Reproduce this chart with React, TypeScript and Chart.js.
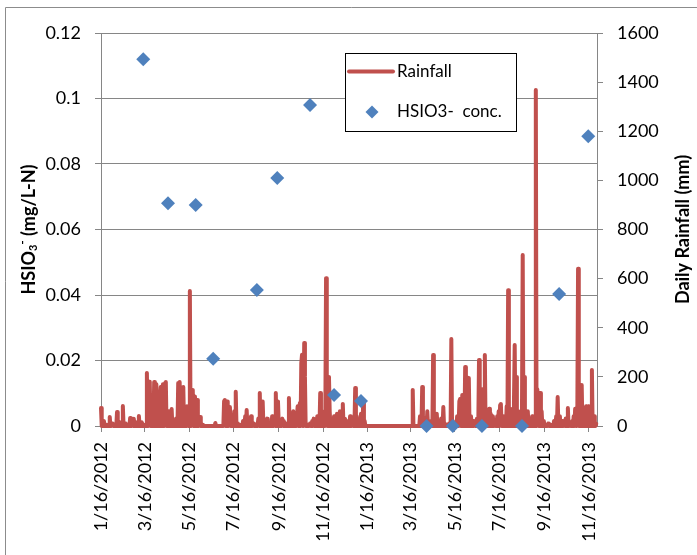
import React, { useEffect, useRef } from 'react';
import { Chart, registerables } from 'chart.js';

Chart.register(...registerables);

// Day offsets counted from 1/16/2012
const tickDays = [0, 60, 121, 182, 244, 305, 366, 425, 486, 547, 609, 670];
const tickLabels = [
  '1/16/2012', '3/16/2012', '5/16/2012', '7/16/2012', '9/16/2012', '11/16/2012',
  '1/16/2013', '3/16/2013', '5/16/2013', '7/16/2013', '9/16/2013', '11/16/2013',
];
const lastDay = 681;

// Rainy days (day offset, mm); days not listed had no rainfall (0 mm)
const rainDay = [
  0, 4, 8, 12, 16, 22, 26, 30, 34, 40, 43, 45, 48, 52, 56, 59, 63, 66, 67, 70,
  73, 76, 78, 81, 82, 85, 88, 89, 92, 95, 97, 100, 103, 106, 108, 111, 113, 115, 118, 119,
  122, 125, 126, 129, 132, 135, 136, 139, 157, 169, 170, 173, 176, 177, 180, 183,
  185, 188, 192, 195, 198, 200, 203, 206, 209, 213, 216, 218, 221, 222, 225, 228, 232, 235, 238, 240,
  243, 244, 249, 251, 254, 258, 261, 264, 266, 270, 273, 275, 276, 279, 280, 283, 287, 290, 292, 297,
  299, 301, 303, 305, 308, 309, 310, 313, 314, 317, 320, 324, 328, 332, 335, 339, 342, 345, 349, 351,
  354, 357, 360, 362, 428, 438, 441, 443, 445, 448, 450, 453, 456, 459, 461, 464,
  467, 470, 472, 475, 478, 481, 483, 486, 489, 492, 493, 496, 500, 502, 505, 508, 511, 513, 516, 519,
  522, 524, 527, 530, 533, 535, 538, 541, 544, 546, 548, 549, 552, 555, 557, 559, 562, 564, 567, 568,
  570, 573, 575, 578, 579, 581, 583, 586, 589, 592, 594, 597, 599, 600, 603, 605, 608, 611, 614,
  619, 622, 625, 627, 630, 633, 636, 638, 641, 644, 647, 649, 651, 654, 655, 658, 660, 663, 666, 669,
  671, 674, 677, 680,
];
const rainMm = [
  73, 20, 5, 37, 10, 57, 15, 81, 10, 33, 20, 30, 15, 41, 15, 5, 216, 180, 170, 40,
  179, 170, 30, 120, 159, 170, 175, 179, 60, 20, 69, 20, 30, 175, 179, 130, 159, 60, 80, 20,
  550, 60, 147, 120, 106, 20, 37, 5, 12, 102, 106, 100, 30, 77, 40, 60,
  139, 10, 5, 20, 40, 65, 20, 40, 10, 5, 30, 134, 60, 100, 20, 30, 10, 40, 20, 134,
  100, 10, 30, 20, 10, 114, 30, 60, 40, 80, 94, 256, 290, 338, 200, 5, 10, 20, 30, 40,
  10, 134, 60, 30, 40, 602, 150, 200, 60, 30, 40, 50, 60, 90, 30, 20, 40, 10, 155, 40,
  10, 50, 94, 20, 147, 40, 159, 10, 30, 60, 10, 20, 289, 40, 50, 20,
  30, 77, 10, 5, 10, 354, 20, 5, 40, 100, 110, 126, 240, 200, 195, 40, 20, 10, 30, 269,
  100, 150, 289, 60, 70, 50, 40, 10, 40, 60, 85, 90, 40, 20, 80, 553, 70, 40, 100, 330,
  200, 60, 40, 60, 696, 200, 40, 60, 20, 40, 30, 1368, 150, 100, 134, 60, 20, 5, 10,
  5, 20, 40, 118, 40, 20, 10, 30, 73, 10, 20, 40, 70, 60, 640, 80, 167, 60, 80, 80,
  60, 228, 40, 10,
];

// HSIO3- concentration samples (day offset, mg/L-N)
const hsDay = [58, 92, 130, 154, 214, 242, 287, 320, 357, 447, 483, 523, 578, 629, 669];
const hsConc = [0.112, 0.068, 0.0675, 0.0205, 0.0415, 0.0757, 0.098, 0.0095, 0.0076, 0, 0, 0, 0, 0.0403, 0.0885];

const seriesNames = ['Rainfall', 'HSIO3-  conc.'];

const FONT = 'Lato, "Open Sans", sans-serif';
const RED = '#C0504D';
const BLUE = '#4F81BD';
const GRID = '#868686';

function drawDiamond(ctx: CanvasRenderingContext2D, x: number, y: number, r: number) {
  ctx.beginPath();
  ctx.moveTo(x, y - r);
  ctx.lineTo(x + r, y);
  ctx.lineTo(x, y + r);
  ctx.lineTo(x - r, y);
  ctx.closePath();
  ctx.fill();
}

const decorPlugin = {
  id: 'decor',
  afterDraw(chart: any) {
    const ctx: CanvasRenderingContext2D = chart.ctx;
    const ca = chart.chartArea;
    const cy = (ca.top + ca.bottom) / 2;
    ctx.save();
    ctx.strokeStyle = '#8c8c8c';
    ctx.lineWidth = 1;
    ctx.beginPath();
    ctx.moveTo(5.5, 555);
    ctx.lineTo(5.5, 7.5);
    ctx.lineTo(697, 7.5);
    ctx.stroke();

    ctx.save();
    ctx.translate(28, cy);
    ctx.rotate(-Math.PI / 2);
    ctx.fillStyle = '#000';
    const big = `bold 18px ${FONT}`;
    const small = `bold 11px ${FONT}`;
    const parts: [string, string, number][] = [
      ['HSIO', big, 0],
      ['3', small, 4],
      ['-', small, -7],
      [' (mg/L-N)', big, 0],
    ];
    let total = 0;
    const widths = parts.map(([t, f]) => {
      ctx.font = f;
      const w = ctx.measureText(t).width;
      total += w;
      return w;
    });
    let x = -total / 2;
    ctx.textBaseline = 'middle';
    ctx.textAlign = 'left';
    parts.forEach(([t, f, dy], i) => {
      ctx.font = f;
      ctx.fillText(t, x, dy + 1);
      x += widths[i];
    });
    ctx.restore();

    ctx.save();
    ctx.translate(682, cy);
    ctx.rotate(-Math.PI / 2);
    ctx.fillStyle = '#000';
    ctx.font = big;
    ctx.textAlign = 'center';
    ctx.textBaseline = 'middle';
    ctx.fillText('Daily Rainfall (mm)', 0, 1);
    ctx.restore();

    ctx.fillStyle = '#fff';
    ctx.fillRect(345, 53, 171, 78);
    ctx.strokeStyle = '#000';
    ctx.lineWidth = 1;
    ctx.strokeRect(345.5, 53.5, 171, 78);
    ctx.strokeStyle = RED;
    ctx.lineWidth = 4;
    ctx.lineCap = 'round';
    ctx.beginPath();
    ctx.moveTo(349, 71.5);
    ctx.lineTo(393, 71.5);
    ctx.stroke();
    ctx.fillStyle = BLUE;
    drawDiamond(ctx, 372, 112, 6.5);
    ctx.fillStyle = '#000';
    ctx.font = `17px ${FONT}`;
    ctx.textAlign = 'left';
    ctx.textBaseline = 'middle';
    ctx.fillText(seriesNames[0], 397, 72);
    ctx.fillText(seriesNames[1], 397, 112);
    ctx.restore();
  },
};

export default function App() {
  const ref = useRef<HTMLCanvasElement>(null);
  useEffect(() => {
    document.body.style.margin = '0';
    const canvas = ref.current!;
    const tickFont = { family: FONT, size: 18 };
    // full daily series: listed rainy days carry their reading, other days 0 mm
    const daily: { x: number; y: number }[] = [];
    for (let d = 0; d <= lastDay - 1; d++) {
      const k = rainDay.indexOf(d);
      daily.push({ x: d, y: k >= 0 ? rainMm[k] : 0 });
    }
    const chart = new Chart(canvas, {
      type: 'scatter',
      data: {
        datasets: [
          {
            type: 'scatter',
            label: seriesNames[1],
            data: hsDay.map((d, i) => ({ x: d, y: hsConc[i] })),
            yAxisID: 'y',
            backgroundColor: BLUE,
            borderColor: BLUE,
            borderWidth: 0,
            pointStyle: 'rectRot',
            pointRadius: 7,
            order: 0,
            clip: false,
          } as any,
          {
            type: 'line',
            label: seriesNames[0],
            data: daily,
            yAxisID: 'y2',
            borderColor: RED,
            backgroundColor: RED,
            borderWidth: 4,
            pointRadius: 0,
            tension: 0,
            borderJoinStyle: 'round',
            borderCapStyle: 'round',
            order: 1,
            clip: false,
          } as any,
        ],
      },
      options: {
        responsive: false,
        animation: false,
        events: [],
        layout: { padding: { top: 33, left: 0, right: 0, bottom: 0 } },
        plugins: { legend: { display: false }, tooltip: { enabled: false } },
        scales: {
          x: {
            type: 'linear',
            min: 0,
            max: lastDay,
            afterBuildTicks: (s: any) => {
              s.ticks = tickDays.map((v) => ({ value: v }));
            },
            afterFit: (s: any) => {
              s.height = 129;
            },
            ticks: {
              autoSkip: false,
              maxRotation: 90,
              minRotation: 90,
              padding: 10,
              color: '#000',
              font: tickFont,
              callback: (v: any) => tickLabels[tickDays.indexOf(Number(v))],
            },
            grid: { drawOnChartArea: false, drawTicks: true, tickLength: 6, color: GRID },
            border: { color: GRID },
          },
          y: {
            position: 'left',
            min: 0,
            max: 0.12,
            afterFit: (s: any) => {
              s.width = 101;
            },
            ticks: {
              stepSize: 0.02,
              padding: 14,
              color: '#000',
              font: tickFont,
              callback: (v: any) => String(Math.round(Number(v) * 100) / 100),
            },
            grid: { color: GRID, tickLength: 6, lineWidth: 1 },
            border: { color: GRID },
          },
          y2: {
            position: 'right',
            min: 0,
            max: 1600,
            afterFit: (s: any) => {
              s.width = 100;
            },
            ticks: {
              stepSize: 200,
              padding: 14,
              color: '#000',
              font: tickFont,
              callback: (v: any) => String(v),
            },
            grid: { drawOnChartArea: false, tickLength: 6, color: GRID },
            border: { color: GRID },
          },
        },
      } as any,
      plugins: [decorPlugin],
    });
    return () => chart.destroy();
  }, []);
  return (
    <div style={{ position: 'absolute', left: 0, top: 0, width: 697, height: 555, background: '#fff' }}>
      <canvas ref={ref} width={697} height={555} style={{ display: 'block' }} />
    </div>
  );
}
